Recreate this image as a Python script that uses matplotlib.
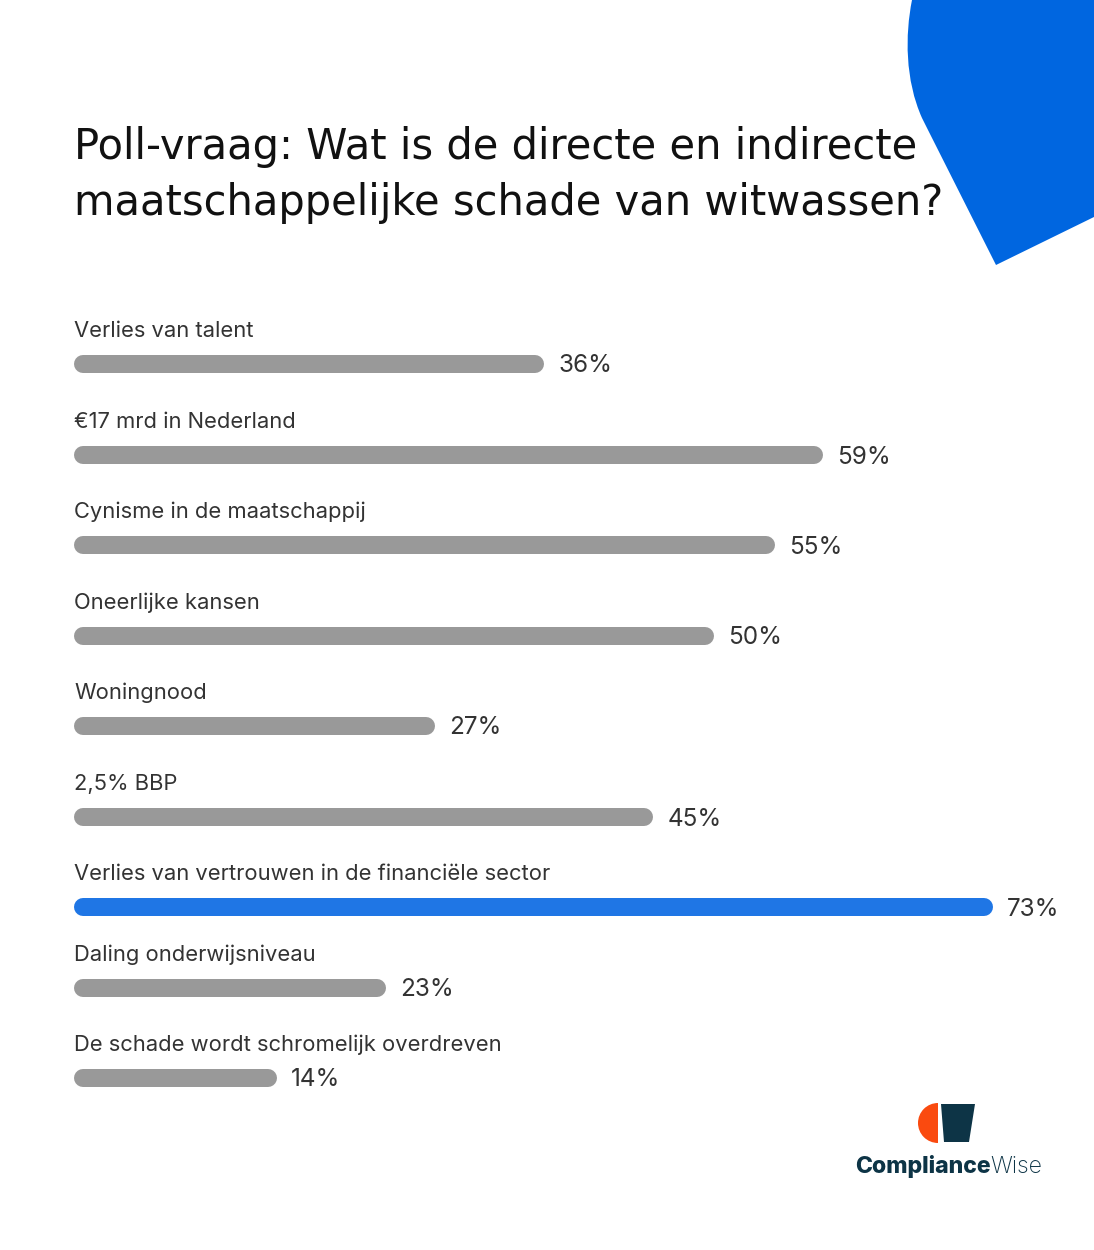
import matplotlib
matplotlib.use("Agg")
import matplotlib.pyplot as plt
from matplotlib.patches import Polygon, Wedge, PathPatch
from matplotlib.path import Path

# ---------------- data ----------------
categories = [
    "Verlies van talent",
    "€17 mrd in Nederland",
    "Cynisme in de maatschappij",
    "Oneerlijke kansen",
    "Woningnood",
    "2,5% BBP",
    "Verlies van vertrouwen in de financiële sector",
    "Daling onderwijsniveau",
    "De schade wordt schromelijk overdreven",
]
values = [36, 59, 55, 50, 27, 45, 73, 23, 14]
highlight = "Verlies van vertrouwen in de financiële sector"
title = "Poll-vraag: Wat is de directe en indirecte\nmaatschappelijke schade van witwassen?"

# ---------------- layout ----------------
W, H = 1094, 1250
DPI = 100
bar_y = [364, 455, 545, 636, 726, 817, 907, 988, 1078]   # pixel rows of bars
PX_PER_PCT = 12.14
ZERO_PX = 107
BAR_PX = 18
START_PX = 74

GREY = "#999999"
BLUE = "#1F76E5"
CORNER = "#0066E0"
NAVY = "#0D3446"
ORANGE = "#FA4A0F"

fig = plt.figure(figsize=(W / DPI, H / DPI), dpi=DPI)
fig.patch.set_facecolor("white")

# decoration axes in pixel coordinates
deco = fig.add_axes([0, 0, 1, 1])
deco.set_xlim(0, W)
deco.set_ylim(H, 0)
deco.axis("off")

# blue corner shape
verts = [
    (912, 0), (905, 35), (905, 80), (922, 118), (928, 130),
    (996, 265), (1094, 217), (1094, 0), (912, 0),
]
codes = [Path.MOVETO, Path.CURVE4, Path.CURVE4, Path.CURVE4, Path.LINETO,
         Path.LINETO, Path.LINETO, Path.LINETO, Path.CLOSEPOLY]
deco.add_patch(PathPatch(Path(verts, codes), facecolor=CORNER, edgecolor="none"))

# title
deco.text(74, 126, title, fontsize=30, family="DejaVu Sans", fontweight="normal",
          color="#111111", va="top", ha="left", linespacing=1.43)

# bars axes: x in percent, y in pixels
ax = fig.add_axes([0, 0, 1, 1])
ax.set_xlim(-ZERO_PX / PX_PER_PCT, (W - ZERO_PX) / PX_PER_PCT)
ax.set_ylim(H, 0)
ax.axis("off")
ax.patch.set_alpha(0)

lw_pt = BAR_PX * 72 / DPI
cap = (BAR_PX / 2) / PX_PER_PCT
start = (START_PX - ZERO_PX) / PX_PER_PCT + cap

for cat, v, y in zip(categories, values, bar_y):
    col = BLUE if cat == highlight else GREY
    ax.plot([start, v - cap], [y, y], color=col, lw=lw_pt,
            solid_capstyle="round", zorder=2)
    ax.text(start - cap, y - 33, cat, fontsize=15.8, family="Inter",
            color="#333333", va="center", ha="left")
    ax.text(v + 14 / PX_PER_PCT, y + 2, f"{v}%", fontsize=17.5, family="Inter",
            color="#333333", va="center", ha="left")

# logo
deco.add_patch(Wedge((938, 1123), 20, 90, 270, facecolor=ORANGE, edgecolor="none"))
deco.add_patch(Polygon([(941, 1104), (975, 1104), (969, 1142), (944, 1142)],
                       closed=True, facecolor=NAVY, edgecolor="none"))
t1 = deco.text(855, 1167, "Compliance", fontsize=16.6, family="Inter",
               fontweight="heavy", color=NAVY, va="center", ha="left")
fig.canvas.draw()
bb = t1.get_window_extent()
x_end = bb.x1
deco.text(x_end, H - 1167, "Wise", fontsize=16.6, family="Inter",
          fontweight="light", color=NAVY, va="center", ha="left",
          transform=None)

fig.savefig("out.png", dpi=DPI, facecolor="white")
